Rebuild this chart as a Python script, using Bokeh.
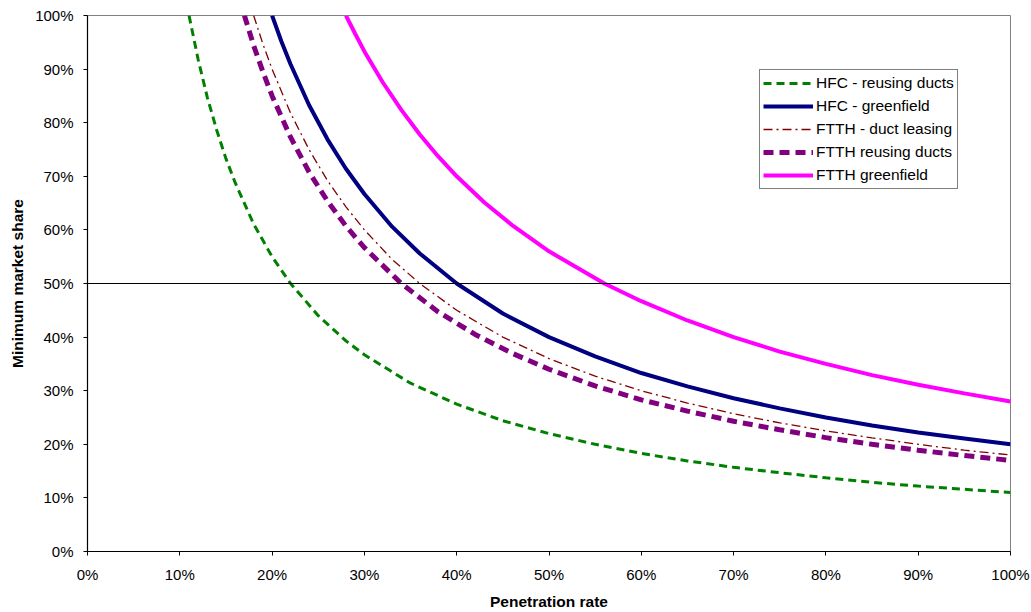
from bokeh.plotting import figure
from bokeh.models import Span, NumeralTickFormatter, FixedTicker, Range1d
from bokeh.embed import file_html
from bokeh.resources import INLINE

# Data (penetration rate -> minimum market share)
hfc_reuse_x = [0.11, 0.12, 0.13, 0.14, 0.15, 0.16, 0.18, 0.20, 0.22, 0.25, 0.28, 0.30, 0.35,
               0.40, 0.45, 0.50, 0.55, 0.60, 0.65, 0.70, 0.75, 0.80, 0.85, 0.90, 0.95, 1.00]
hfc_reuse_y = [1.00, 0.917, 0.846, 0.786, 0.733, 0.688, 0.611, 0.55, 0.50, 0.44, 0.393, 0.367, 0.314,
               0.275, 0.244, 0.22, 0.20, 0.183, 0.169, 0.157, 0.147, 0.1375, 0.129, 0.122, 0.116, 0.11]

hfc_green_x = [0.20, 0.21, 0.22, 0.24, 0.26, 0.28, 0.30, 0.33, 0.36, 0.40, 0.45, 0.50, 0.55,
               0.60, 0.65, 0.70, 0.75, 0.80, 0.85, 0.90, 0.95, 1.00]
hfc_green_y = [1.00, 0.952, 0.909, 0.833, 0.769, 0.714, 0.667, 0.606, 0.556, 0.50, 0.444, 0.40, 0.364,
               0.333, 0.308, 0.286, 0.267, 0.25, 0.235, 0.222, 0.211, 0.20]

ftth_lease_x = [0.18, 0.19, 0.20, 0.22, 0.24, 0.26, 0.28, 0.30, 0.33, 0.36, 0.40, 0.45, 0.50,
                0.55, 0.60, 0.65, 0.70, 0.75, 0.80, 0.85, 0.90, 0.95, 1.00]
ftth_lease_y = [1.00, 0.947, 0.90, 0.818, 0.75, 0.692, 0.643, 0.60, 0.545, 0.50, 0.45, 0.40, 0.36,
                0.327, 0.30, 0.277, 0.257, 0.24, 0.225, 0.212, 0.20, 0.189, 0.18]

ftth_reuse_x = [0.17, 0.18, 0.19, 0.20, 0.22, 0.24, 0.26, 0.28, 0.30, 0.34, 0.38, 0.42, 0.46,
                0.50, 0.55, 0.60, 0.65, 0.70, 0.75, 0.80, 0.85, 0.90, 0.95, 1.00]
ftth_reuse_y = [1.00, 0.944, 0.895, 0.85, 0.773, 0.708, 0.654, 0.607, 0.567, 0.50, 0.447, 0.405, 0.37,
                0.34, 0.309, 0.283, 0.262, 0.243, 0.227, 0.2125, 0.20, 0.189, 0.179, 0.17]

ftth_green_x = [0.28, 0.29, 0.30, 0.32, 0.34, 0.36, 0.38, 0.40, 0.43, 0.46, 0.50, 0.56, 0.60,
                0.65, 0.70, 0.75, 0.80, 0.85, 0.90, 0.95, 1.00]
ftth_green_y = [1.00, 0.966, 0.933, 0.875, 0.824, 0.778, 0.737, 0.70, 0.651, 0.609, 0.56, 0.50, 0.467,
                0.431, 0.40, 0.373, 0.35, 0.329, 0.311, 0.295, 0.28]

tick_values = [0.0, 0.1, 0.2, 0.3, 0.4, 0.5, 0.6, 0.7, 0.8, 0.9, 1.0]
threshold = 0.5

FONT = "Liberation Sans"

p = figure(width=1031, height=612, output_backend="svg", toolbar_location=None,
           x_range=Range1d(0, 1), y_range=Range1d(0, 1),
           min_border_left=87, min_border_right=21, min_border_top=15, min_border_bottom=60)
p.background_fill_color = "white"
p.border_fill_color = "white"
p.outline_line_color = "#808080"
p.outline_line_width = 1
p.xgrid.visible = False
p.ygrid.visible = False

for ax in (p.xaxis[0], p.yaxis[0]):
    ax.ticker = FixedTicker(ticks=tick_values)
    ax.formatter = NumeralTickFormatter(format="0%")
    ax.minor_tick_line_color = None
    ax.major_tick_in = 0
    ax.major_tick_out = 4
    ax.axis_line_color = "black"
    ax.axis_line_width = 1.2
    ax.major_tick_line_color = "black"
    ax.major_label_text_font = FONT
    ax.major_label_text_font_size = "15px"
    ax.major_label_text_color = "black"
    ax.axis_label_text_font = FONT
    ax.axis_label_text_font_size = "15.5px"
    ax.axis_label_text_font_style = "bold"
    ax.axis_label_text_color = "black"

p.xaxis.axis_label = "Penetration rate"
p.yaxis.axis_label = "Minimum market share"
p.xaxis.major_label_standoff = 10
p.yaxis.major_label_standoff = 10
p.xaxis.axis_label_standoff = 7
p.yaxis.axis_label_standoff = 6

p.add_layout(Span(location=threshold, dimension="width", line_color="black", line_width=1))

p.line(hfc_reuse_x, hfc_reuse_y, line_color="#008000", line_width=3, line_dash="8 5",
       legend_label="HFC - reusing ducts")
p.line(hfc_green_x, hfc_green_y, line_color="#000080", line_width=4,
       legend_label="HFC - greenfield")
p.line(ftth_lease_x, ftth_lease_y, line_color="#800000", line_width=1.3, line_dash="9 4 2 4",
       legend_label="FTTH - duct leasing")
p.line(ftth_reuse_x, ftth_reuse_y, line_color="#800080", line_width=5, line_dash="10 6",
       legend_label="FTTH reusing ducts")
p.line(ftth_green_x, ftth_green_y, line_color="#FF00FF", line_width=4,
       legend_label="FTTH greenfield")

lg = p.legend[0]
lg.location = (672, 362)
lg.border_line_color = "black"
lg.border_line_width = 1
lg.background_fill_color = "white"
lg.background_fill_alpha = 1
lg.label_text_font = FONT
lg.label_text_font_size = "15.5px"
lg.label_text_color = "black"
lg.glyph_width = 50
lg.glyph_height = 20
lg.label_height = 20
lg.label_standoff = 3
lg.spacing = 3
lg.padding = 3
lg.margin = 0

open("out.html", "w").write(file_html(p, INLINE))
